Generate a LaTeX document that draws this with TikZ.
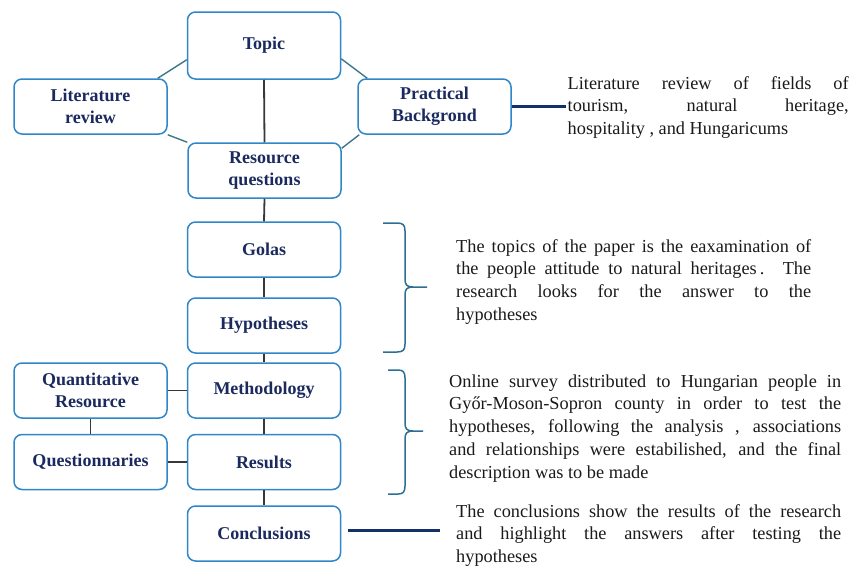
\documentclass[tikz,border=0pt]{standalone}
\usepackage{fontspec}
\setmainfont{Liberation Serif}
\usetikzlibrary{calc}
\definecolor{boxblue}{HTML}{2F86C9}
\definecolor{navy}{HTML}{1B2A5E}
\definecolor{teal}{HTML}{3D7787}
\definecolor{vgray}{HTML}{383838}
\definecolor{thick}{HTML}{13306B}
\definecolor{brace}{HTML}{2F6E94}
\definecolor{txt}{HTML}{1A1A1A}
\begin{document}
\begin{tikzpicture}[x=1pt,y=-1pt,
  box/.style={draw=boxblue, line width=1.5pt, rounded corners=8pt, minimum width=153pt, minimum height=55pt, inner sep=0pt, align=center, text=navy, font=\fontsize{18}{22}\selectfont\bfseries},
  desc/.style={inner sep=0pt, align=justify, text=txt, font=\fontsize{18.3}{22.8}\selectfont, anchor=base west},
  diag/.style={draw=teal, line width=1.4pt},
  vline/.style={draw=vgray, line width=1.8pt},
  thickline/.style={draw=thick, line width=3pt},
  bracestyle/.style={draw=brace, line width=1.5pt}]
\useasboundingbox (0,0) rectangle (867,566);
\node[box, minimum height=67pt] (topic) at (264,45.5) {Topic};
\node[box] (lit) at (90.5,106.5) {Literature\\review};
\node[box] (prac) at (434.5,106.5) {Practical\\Backgrond};
\node[box] (rq) at (264.5,170.5) {Resource\\questions};
\node[box] (golas) at (264,249.5) {Golas};
\node[box] (hyp) at (264,325.5) {Hypotheses};
\node[box] (meth) at (264,390.5) {Methodology};
\node[box] (res) at (264,462) {Results};
\node[box] (concl) at (264,533.5) {Conclusions};
\node[box] (qr) at (90.5,390.5) {Quantitative\\Resource};
\node[box] (quest) at (90.5,462) {Questionnaries};

\node[desc, text width=281pt] (t1) at (567.5,89) {Literature review of fields of\linebreak tourism, natural heritage,\linebreak hospitality , and Hungaricums};
\node[desc, text width=355pt] (t2) at (456,252) {The topics of the paper is the eaxamination of\linebreak the people attitude to natural heritages\,. The\linebreak research looks for the answer to the\linebreak hypotheses};
\node[desc, text width=392pt] (t3) at (449,387) {Online survey distributed to Hungarian people in\linebreak Győr-Moson-Sopron county in order to test the\linebreak hypotheses, following the analysis , associations\linebreak and relationships were estabilished, and the final\linebreak description was to be made};
\node[desc, text width=385pt] (t4) at (456,517) {The conclusions show the results of the research\linebreak and highlight the answers after testing the\linebreak hypotheses};

% diagonal connectors
\draw[diag] ($(topic.south west)+(0,-20)$) -- ($(lit.north east)+(-10,0)$);
\draw[diag] (lit.south east) -- (rq.north west);
\draw[diag] ($(topic.south east)+(0,-21)$) -- ($(prac.north west)+(10,0)$);
\draw[diag] ($(prac.south west)+(2,0)$) -- ($(rq.north east)+(0,6)$);
% vertical spine
\draw[vline] (topic.south) -- (rq.north);
\draw[vline] (rq.south) -- (golas.north);
\draw[vline] (golas.south) -- (hyp.north);
\draw[vline] (hyp.south) -- (meth.north);
\draw[vline] (meth.south) -- (res.north);
\draw[vline] (res.south) -- (concl.north);
\draw[vline] (qr.east) -- (meth.west);
\draw[vline] (quest.east) -- (res.west);
\draw[vline] (qr.south) -- (quest.north);
% thick connectors
\coordinate (c2) at (440,530.5);
\draw[thickline] (prac.east) -- ([xshift=-2pt]prac.east -| t1.west);
\draw[thickline] ($(concl.east)+(7,-3)$) -- (c2);
% braces
\draw[bracestyle] (383,223) -- (397,223) .. controls (403,223) and (405,225) .. (405,231) -- (405,279) .. controls (405,285) and (407,287) .. (413,287) -- (427,287);
\draw[bracestyle] (413,287) .. controls (407,287) and (405,289) .. (405,295) -- (405,344) .. controls (405,350) and (403,352) .. (397,352) -- (383,352);
\draw[bracestyle] (388,370) -- (398,370) .. controls (403,370) and (405,372) .. (405,378) -- (405,423) .. controls (405,429) and (407,431) .. (413,431) -- (423,431);
\draw[bracestyle] (413,431) .. controls (407,431) and (405,433) .. (405,439) -- (405,486) .. controls (405,492) and (403,494) .. (398,494) -- (388,494);
\end{tikzpicture}
\end{document}
